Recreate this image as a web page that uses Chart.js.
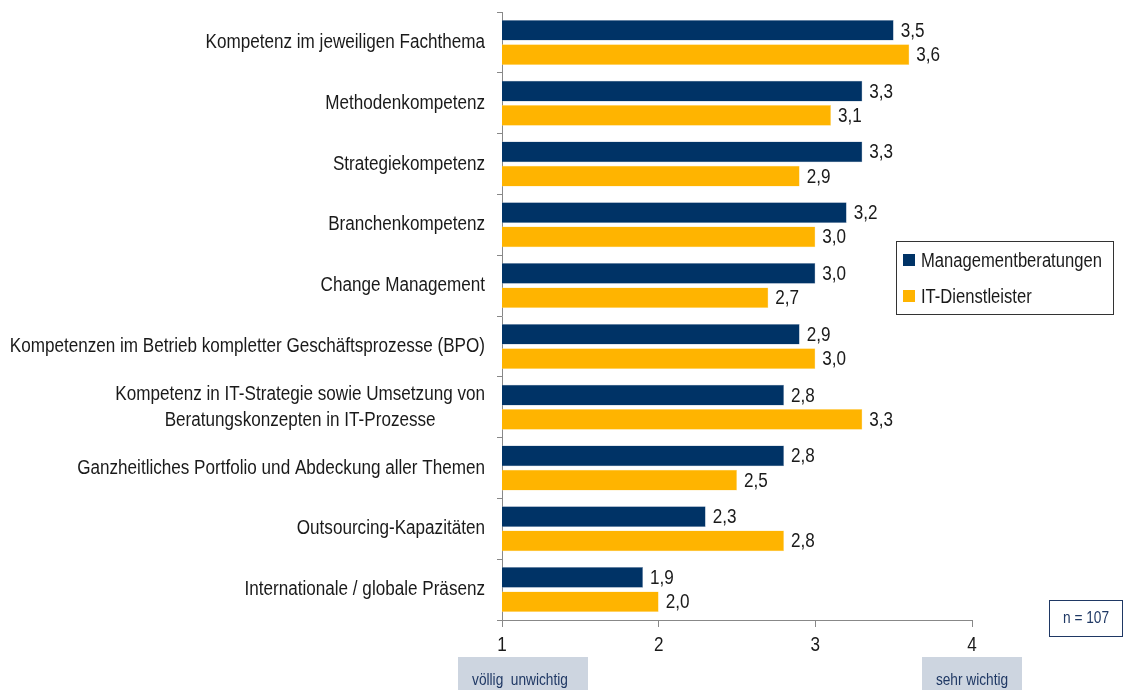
<!DOCTYPE html>
<html>
<head>
<meta charset="utf-8">
<script src="https://cdn.jsdelivr.net/npm/chart.js@4.4.1/dist/chart.umd.min.js"></script>
<style>
html,body{margin:0;padding:0;background:#fff;}
#wrap{position:relative;width:1126px;height:690px;}
</style>
</head>
<body>
<div id="wrap"><canvas id="c" width="1126" height="690"></canvas></div>
<script>
const categories = [
  "Kompetenz im jeweiligen Fachthema",
  "Methodenkompetenz",
  "Strategiekompetenz",
  "Branchenkompetenz",
  "Change Management",
  "Kompetenzen im Betrieb kompletter Geschäftsprozesse (BPO)",
  ["Kompetenz in IT-Strategie sowie Umsetzung von", "Beratungskonzepten in IT-Prozesse"],
  "Ganzheitliches Portfolio und Abdeckung aller Themen",
  "Outsourcing-Kapazitäten",
  "Internationale / globale Präsenz"
];
const seriesNames = ["Managementberatungen", "IT-Dienstleister"];
const managementberatungen = [3.5, 3.3, 3.3, 3.2, 3.0, 2.9, 2.8, 2.8, 2.3, 1.9];
const itDienstleister = [3.6, 3.1, 2.9, 3.0, 2.7, 3.0, 3.3, 2.5, 2.8, 2.0];
const xTicks = [1, 2, 3, 4];
const scaleLabels = ["völlig  unwichtig", "sehr wichtig"];
const sampleNote = "n = 107";

const FONT = "'Liberation Sans', Arial, sans-serif";
const NARROW = 0.855;
const NAVY = "#003366";
const ORANGE = "#FFB400";
const TEXT = "#1a1a1a";

function narrowText(ctx, text, x, y, align, size, color, k) {
  ctx.save();
  ctx.font = size + "px " + FONT;
  ctx.fillStyle = color;
  ctx.textAlign = align;
  ctx.textBaseline = "middle";
  ctx.translate(x, y);
  ctx.scale(k || NARROW, 1);
  ctx.fillText(text, 0, 0);
  ctx.restore();
}
function narrowWidth(ctx, text, size) {
  ctx.save();
  ctx.font = size + "px " + FONT;
  const w = ctx.measureText(text).width * NARROW;
  ctx.restore();
  return w;
}

const extras = {
  id: 'extras',
  afterDraw(chart) {
    const ctx = chart.ctx;
    const y = chart.scales.y, x = chart.scales.x;
    ctx.save();
    // y labels
    const rightEdge = 485;
    categories.forEach((lab, i) => {
      const cy = y.getPixelForValue(i);
      const lines = Array.isArray(lab) ? lab : [lab];
      const maxW = Math.max(...lines.map(l => narrowWidth(ctx, l, 20)));
      const cx = rightEdge - maxW / 2;
      const lh = 26;
      lines.forEach((l, k) => {
        narrowText(ctx, l, cx, cy + (k - (lines.length - 1) / 2) * lh, "center", 20, TEXT);
      });
    });
    // x tick labels
    xTicks.forEach(v => {
      narrowText(ctx, String(v), x.getPixelForValue(v), 645, "center", 20, TEXT);
    });
    // value labels
    chart.data.datasets.forEach((ds, di) => {
      const meta = chart.getDatasetMeta(di);
      meta.data.forEach((bar, i) => {
        const v = ds.data[i];
        narrowText(ctx, v.toFixed(1).replace('.', ','), bar.x + 7, bar.y + 1, "left", 20, TEXT);
      });
    });
    // legend
    ctx.strokeStyle = "#333";
    ctx.lineWidth = 1;
    ctx.strokeRect(896.5, 241.5, 217, 73);
    chart.data.datasets.forEach((ds, di) => {
      const ly = 260 + di * 36;
      ctx.fillStyle = ds.backgroundColor;
      ctx.fillRect(903, ly - 6, 12, 12);
      narrowText(ctx, ds.label, 921, ly + 1, "left", 20, TEXT, 0.83);
    });
    // n box
    ctx.strokeStyle = "#1f3864";
    ctx.strokeRect(1049.5, 600.5, 73, 36);
    narrowText(ctx, sampleNote, 1086, 619, "center", 16, "#1f3864");
    // scale end boxes
    ctx.fillStyle = "#cdd5e0";
    ctx.fillRect(458, 657, 130, 33);
    ctx.fillRect(922, 657, 100, 33);
    narrowText(ctx, scaleLabels[0], 520, 681, "center", 16, "#1f3864");
    narrowText(ctx, scaleLabels[1], 972, 681, "center", 16, "#1f3864");
    ctx.restore();
  }
};

new Chart(document.getElementById('c'), {
  type: 'bar',
  data: {
    labels: categories,
    datasets: [
      { label: seriesNames[0], data: managementberatungen, backgroundColor: NAVY, borderColor: "#8fa3bd", borderWidth: 0.5 },
      { label: seriesNames[1], data: itDienstleister, backgroundColor: ORANGE, borderColor: "#ffe08a", borderWidth: 0.5 }
    ]
  },
  options: {
    indexAxis: 'y',
    responsive: false,
    animation: false,
    devicePixelRatio: 1,
    layout: { padding: { top: 12, right: 154, left: 0, bottom: 0 } },
    datasets: { bar: { barPercentage: 0.85, categoryPercentage: 0.8 } },
    plugins: { legend: { display: false }, tooltip: { enabled: false } },
    scales: {
      x: {
        min: 1, max: 4,
        afterBuildTicks(scale) { scale.ticks = xTicks.map(v => ({ value: v })); },
        afterFit(scale) { scale.height = 70; },
        grid: { drawOnChartArea: false, drawTicks: true, tickLength: 7, color: "#888" },
        border: { color: "#888" },
        ticks: { display: false }
      },
      y: {
        afterFit(scale) { scale.width = 502; },
        grid: { offset: true, drawOnChartArea: false, drawTicks: true, tickLength: 5, color: "#888" },
        border: { color: "#888" },
        ticks: { display: false }
      }
    }
  },
  plugins: [extras]
});
</script>
</body>
</html>
